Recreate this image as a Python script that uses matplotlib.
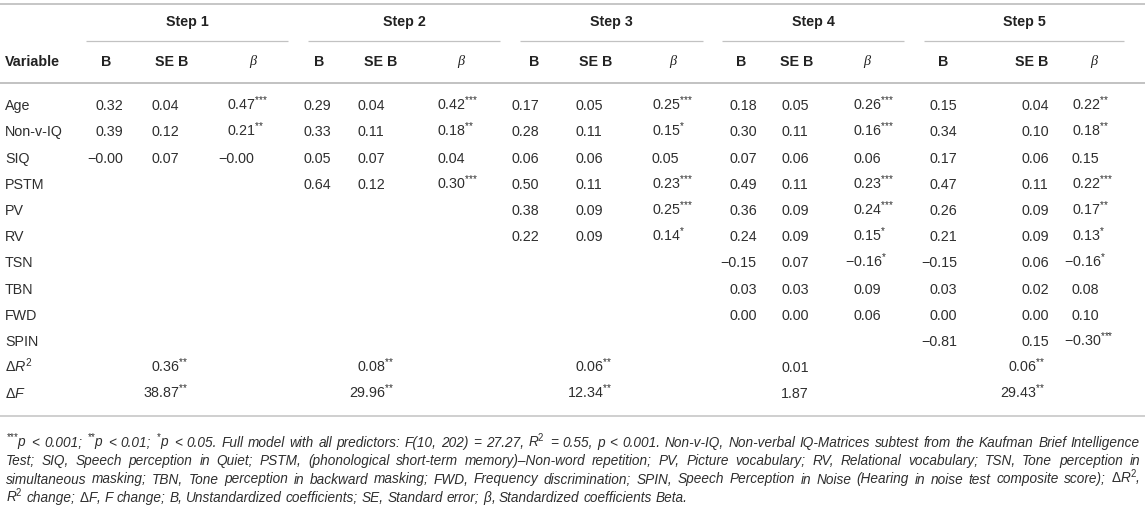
import matplotlib.pyplot as plt

plt.rcParams['font.family'] = ['Liberation Sans', 'DejaVu Sans']
plt.rcParams['mathtext.fontset'] = 'custom'
plt.rcParams['mathtext.rm'] = 'Liberation Sans'
plt.rcParams['mathtext.it'] = 'Liberation Sans:italic'
plt.rcParams['mathtext.bf'] = 'Liberation Sans:bold'

variables = ['Age', 'Non-v-IQ', 'SIQ', 'PSTM', 'PV', 'RV', 'TSN', 'TBN', 'FWD', 'SPIN']
steps = ['Step 1', 'Step 2', 'Step 3', 'Step 4', 'Step 5']
col_heads = ['B', 'SE B', '\u03b2']

step1_b = [0.32, 0.39, -0.00]
step1_se = [0.04, 0.12, 0.07]
step1_beta = [0.47, 0.21, -0.00]
step1_sig = ['***', '**', '']

step2_b = [0.29, 0.33, 0.05, 0.64]
step2_se = [0.04, 0.11, 0.07, 0.12]
step2_beta = [0.42, 0.18, 0.04, 0.30]
step2_sig = ['***', '**', '', '***']

step3_b = [0.17, 0.28, 0.06, 0.50, 0.38, 0.22]
step3_se = [0.05, 0.11, 0.06, 0.11, 0.09, 0.09]
step3_beta = [0.25, 0.15, 0.05, 0.23, 0.25, 0.14]
step3_sig = ['***', '*', '', '***', '***', '*']

step4_b = [0.18, 0.30, 0.07, 0.49, 0.36, 0.24, -0.15, 0.03, 0.00]
step4_se = [0.05, 0.11, 0.06, 0.11, 0.09, 0.09, 0.07, 0.03, 0.00]
step4_beta = [0.26, 0.16, 0.06, 0.23, 0.24, 0.15, -0.16, 0.09, 0.06]
step4_sig = ['***', '***', '', '***', '***', '*', '*', '', '']

step5_b = [0.15, 0.34, 0.17, 0.47, 0.26, 0.21, -0.15, 0.03, 0.00, -0.81]
step5_se = [0.04, 0.10, 0.06, 0.11, 0.09, 0.09, 0.06, 0.02, 0.00, 0.15]
step5_beta = [0.22, 0.18, 0.15, 0.22, 0.17, 0.13, -0.16, 0.08, 0.10, -0.30]
step5_sig = ['**', '**', '', '***', '**', '*', '*', '', '', '***']

delta_r2 = [0.36, 0.08, 0.06, 0.01, 0.06]
delta_r2_sig = ['**', '**', '**', '', '**']
delta_f = [38.87, 29.96, 12.34, 1.87, 29.43]
delta_f_sig = ['**', '**', '**', '', '**']

S3 = r'$^{{*}{*}{*}}$'
S2 = r'$^{{*}{*}}$'
S1 = r'$^{{*}}$'
footnote = [
    S3 + "p < 0.001; " + S2 + "p < 0.01; " + S1 + "p < 0.05. Full model with all predictors: "
    r"F(10, 202) = 27.27, R$^{2}$ = 0.55, p < 0.001. Non-v-IQ, Non-verbal IQ-Matrices subtest "
    "from the Kaufman Brief Intelligence",
    "Test; SIQ, Speech perception in Quiet; PSTM, (phonological short-term memory)\u2013Non-word repetition; "
    "PV, Picture vocabulary; RV, Relational vocabulary; TSN, Tone perception in",
    "simultaneous masking; TBN, Tone perception in backward masking; FWD, Frequency discrimination; "
    r"SPIN, Speech Perception in Noise (Hearing in noise test composite score); $\Delta$R$^{2}$,",
    r"R$^{2}$ change; $\Delta$F, F change; B, Unstandardized coefficients; SE, Standard error; "
    r"$\beta$, Standardized coefficients Beta.",
]

step_data = [
    (step1_b, step1_se, step1_beta, step1_sig),
    (step2_b, step2_se, step2_beta, step2_sig),
    (step3_b, step3_se, step3_beta, step3_sig),
    (step4_b, step4_se, step4_beta, step4_sig),
    (step5_b, step5_se, step5_beta, step5_sig),
]

# ---- layout (pixel space) ----
W, H = 1145, 508
TEXT = '#2e2e2e'
HEAD = '#222222'
RULE = '#c2c2c2'
FS = 10.3
FS_FOOT = 9.8

step_spans = [(86, 288), (308, 500), (520, 703), (722, 904), (924, 1124)]
col_x = [[96, 151, 227], [304, 357, 437], [511, 575, 652],
         [729, 781, 853], [930, 1021, 1072]]
head_x = [[106, 172, 253], [319, 381, 461], [534, 596, 673],
          [741, 797, 867], [943, 1032, 1094]]
delta_x = [151, 357, 575, 781, 1008]

y_step, y_line, y_head = 22, 41, 62
row_y0, row_dy = 105, 26.2
foot_y0, foot_dy = 442, 18.3

fig = plt.figure(figsize=(W / 100, H / 100), dpi=100, facecolor='white')
ax = fig.add_axes([0, 0, 1, 1])
ax.set_xlim(0, W)
ax.set_ylim(H, 0)
ax.axis('off')
renderer = fig.canvas.get_renderer()

px = 100 / 72
base_off = 0.36 * FS * px


def text_width(s, **kw):
    t = ax.text(0, 0, s, **kw)
    w = t.get_window_extent(renderer).width
    t.remove()
    return w


w_zero = text_width('0', fontsize=FS)


def put_num(x_digit, y, value, sig=''):
    s = f"{value:.2f}".replace('-', '\u2212')
    whole = s.split('.')[0]
    x_start = x_digit + w_zero - text_width(whole, fontsize=FS)
    if sig:
        s += '$^{' + ''.join('{*}' for _ in sig) + '}$'
    ax.text(x_start, y + base_off, s, ha='left', va='baseline', fontsize=FS, color=TEXT)


# rules
ax.hlines(3.5, 0, W, color=RULE, lw=1.3)
ax.hlines(83, 0, W, color=RULE, lw=1.4)
ax.hlines(416, 0, W, color=RULE, lw=1.1)
for (a, b) in step_spans:
    ax.hlines(y_line, a, b, color=RULE, lw=0.9)

# header
for name, (a, b) in zip(steps, step_spans):
    ax.text((a + b) / 2, y_step, name, ha='center', va='center', fontsize=FS,
            fontweight='bold', color=HEAD)
ax.text(5, y_head, 'Variable', ha='left', va='center', fontsize=FS,
        fontweight='bold', color=HEAD)
for hx in head_x:
    for x, h in zip(hx, col_heads):
        if h == '\u03b2':
            ax.text(x, y_head, h, ha='center', va='center', fontsize=FS,
                    family='Liberation Serif', style='italic', color=HEAD)
        else:
            ax.text(x, y_head, h, ha='center', va='center', fontsize=FS,
                    fontweight='bold', color=HEAD)

# body
for i, v in enumerate(variables):
    ax.text(5, row_y0 + i * row_dy + base_off, v, ha='left', va='baseline',
            fontsize=FS, color=TEXT)
ax.text(5, row_y0 + 10 * row_dy + base_off, r'$\Delta R^{2}$', ha='left',
        va='baseline', fontsize=FS, color=TEXT)
ax.text(5, row_y0 + 11 * row_dy + base_off, r'$\Delta F$', ha='left',
        va='baseline', fontsize=FS, color=TEXT)

for k, (b, se, beta, sig) in enumerate(step_data):
    for i in range(len(b)):
        y = row_y0 + i * row_dy
        put_num(col_x[k][0], y, b[i])
        put_num(col_x[k][1], y, se[i])
        put_num(col_x[k][2], y, beta[i], sig[i])
    put_num(delta_x[k], row_y0 + 10 * row_dy, delta_r2[k], delta_r2_sig[k])
    put_num(delta_x[k], row_y0 + 11 * row_dy, delta_f[k], delta_f_sig[k])

# footnote, justified like the journal layout
x0, x1 = 6, 1140
space_w = 0.278 * FS_FOOT * px
for j, line in enumerate(footnote):
    y = foot_y0 + j * foot_dy + 0.36 * FS_FOOT * px
    words = line.split(' ')
    arts = [ax.text(0, y, w, ha='left', va='baseline', fontsize=FS_FOOT,
                    style='italic', color=TEXT) for w in words]
    widths = [a.get_window_extent(renderer).width for a in arts]
    if j < len(footnote) - 1:
        gap = (x1 - x0 - sum(widths)) / (len(words) - 1)
    else:
        gap = space_w
    x = x0
    for a, w in zip(arts, widths):
        a.set_x(x)
        x += w + gap

fig.savefig('out.png', dpi=100, facecolor='white')
